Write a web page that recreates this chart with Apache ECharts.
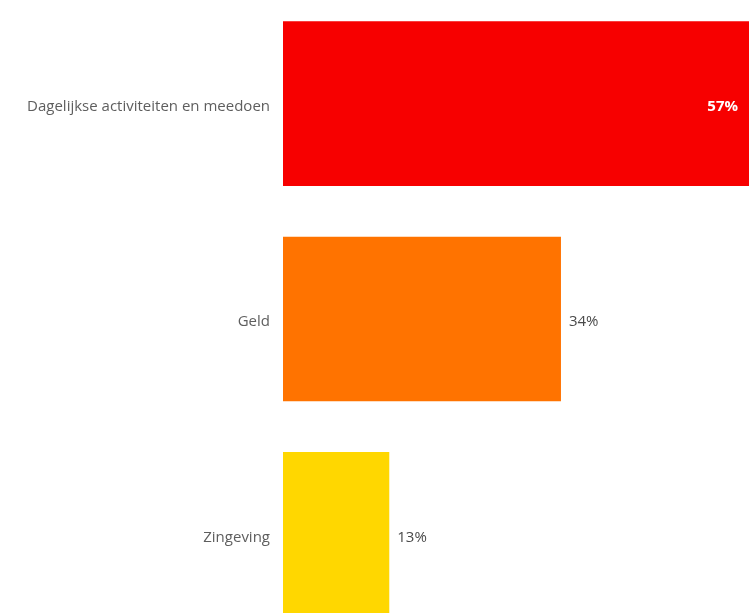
<!DOCTYPE html>
<html>
<head>
<meta charset="utf-8">
<style>
  html, body { margin: 0; padding: 0; background: #ffffff; overflow: hidden; }
  body { width: 751px; height: 613px; position: relative; }
  /* plot area runs slightly past the viewport, so the last bar is cut at the bottom */
  #chart { width: 751px; height: 646px; position: absolute; left: 0; top: -4px; }
</style>
<script src="https://cdn.jsdelivr.net/npm/echarts@6/dist/echarts.min.js"></script>
</head>
<body>
<div id="chart"></div>
<script>
// Share of respondents per theme (percent)
const categories = ['Dagelijkse activiteiten en meedoen', 'Geld', 'Zingeving'];
const values = [57, 34, 13];
const barColors = ['#f70000', '#ff7300', '#ffd700'];
const labelColors = ['#ffffff', '#4a4a4a', '#4a4a4a'];

const chart = echarts.init(document.getElementById('chart'));

chart.setOption({
  animation: false,
  grid: { left: 283, right: 2, top: 0, bottom: 0, containLabel: false },
  xAxis: {
    type: 'value',
    min: 0,
    max: 57,
    show: false
  },
  yAxis: {
    type: 'category',
    data: categories,
    inverse: true,
    axisLine: { show: false },
    axisTick: { show: false },
    axisLabel: {
      margin: 13,
      color: '#5e5e5e',
      fontFamily: 'Open Sans',
      fontSize: 15,
      verticalAlign: 'top',
      lineHeight: 6
    }
  },
  series: [{
    type: 'bar',
    barCategoryGap: '23.5%',
    data: values.map((v, i) => ({
      value: v,
      itemStyle: { color: barColors[i] },
      label: {
        show: true,
        position: i === 0 ? 'insideRight' : 'right',
        distance: i === 0 ? 11 : 8,
        color: labelColors[i],
        fontWeight: i === 0 ? 'bold' : 'normal'
      }
    })),
    label: {
      formatter: p => p.value + '%',
      fontFamily: 'Open Sans',
      fontSize: 15,
      offset: [0, 3]
    }
  }]
});
</script>
</body>
</html>
